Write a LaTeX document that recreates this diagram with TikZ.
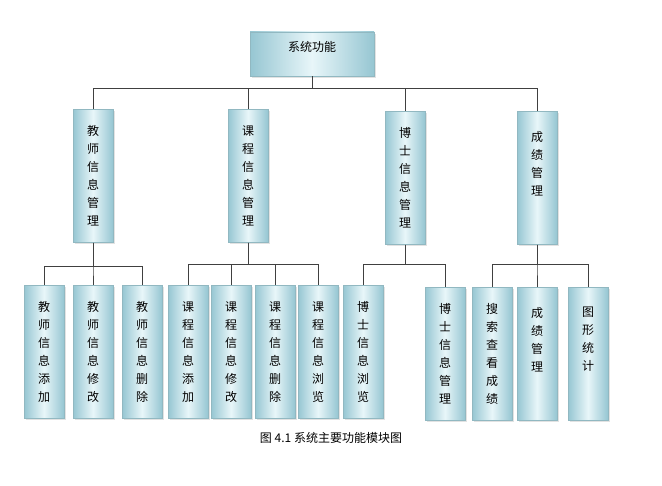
\documentclass[tikz,border=0pt]{standalone}
\usepackage{fontspec}
\setmainfont{Noto Sans CJK SC}
\usetikzlibrary{shadows}

\definecolor{boxedge}{RGB}{150,198,210}
\definecolor{boxmid}{RGB}{232,246,249}
\tikzset{
  box/.style={draw=boxedge!80!gray, shading=axis, left color=boxedge, right color=boxedge, middle color=boxmid,
    drop shadow={shadow xshift=2pt, shadow yshift=-2pt, fill=gray!45},
    align=center, inner sep=0pt, font=\fontsize{12}{18}\selectfont},
  tall/.style={box, minimum width=40pt, minimum height=133pt},
  link/.style={draw=black!75, line width=0.9pt}
}

\begin{document}
\begin{tikzpicture}[x=1pt, y=-1pt]
  \useasboundingbox (0,0) rectangle (662,486);
  % root
  \node [box, minimum width=124pt, minimum height=44pt, text depth=16pt] (root) at (312,54) {系统功能};
  % modules
  \node [tall] (js) at (93,176) {教\\师\\信\\息\\管\\理};
  \node [tall] (kc) at (248,176) {课\\程\\信\\息\\管\\理};
  \node [tall] (bs) at (405,178) {博\\士\\信\\息\\管\\理};
  \node [tall, text depth=30pt] (cj) at (537,178) {成\\绩\\管\\理};
  % sub-modules
  \node [tall] (js1) at (44,352) {教\\师\\信\\息\\添\\加};
  \node [tall] (js2) at (93,352) {教\\师\\信\\息\\修\\改};
  \node [tall] (js3) at (142,352) {教\\师\\信\\息\\删\\除};
  \node [tall] (kc1) at (188,352) {课\\程\\信\\息\\添\\加};
  \node [tall] (kc2) at (231,352) {课\\程\\信\\息\\修\\改};
  \node [tall] (kc3) at (275,352) {课\\程\\信\\息\\删\\除};
  \node [tall] (kc4) at (318,352) {课\\程\\信\\息\\浏\\览};
  \node [tall] (bs1) at (363,352) {博\\士\\信\\息\\浏\\览};
  \node [tall] (bs2) at (445,354) {博\\士\\信\\息\\管\\理};
  \node [tall] (cj1) at (492,354) {搜\\索\\查\\看\\成\\绩};
  \node [tall, text depth=30pt] (cj2) at (537,354) {成\\绩\\管\\理};
  \node [tall, text depth=30pt] (cj3) at (588,354) {图\\形\\统\\计};
  % caption
  \node (cap) at (331,438) {\fontsize{12}{14}\selectfont 图 4.1 系统主要功能模块图};

  % connectors
  \foreach \c in {js,kc,bs,cj}
    \draw [link] (root.south) -- ++(0,12) -| (\c.north);
  \foreach \c in {js1,js2,js3}
    \draw [link] (js.south) -- ++(0,24) -| (\c.north);
  \foreach \c in {kc1,kc2,kc3,kc4}
    \draw [link] (kc.south) -- ++(0,22) -| (\c.north);
  \foreach \c in {bs1,bs2}
    \draw [link] (bs.south) -- ++(0,20) -| (\c.north);
  \foreach \c in {cj1,cj2,cj3}
    \draw [link] (cj.south) -- ++(0,20) -| (\c.north);
\end{tikzpicture}
\end{document}
